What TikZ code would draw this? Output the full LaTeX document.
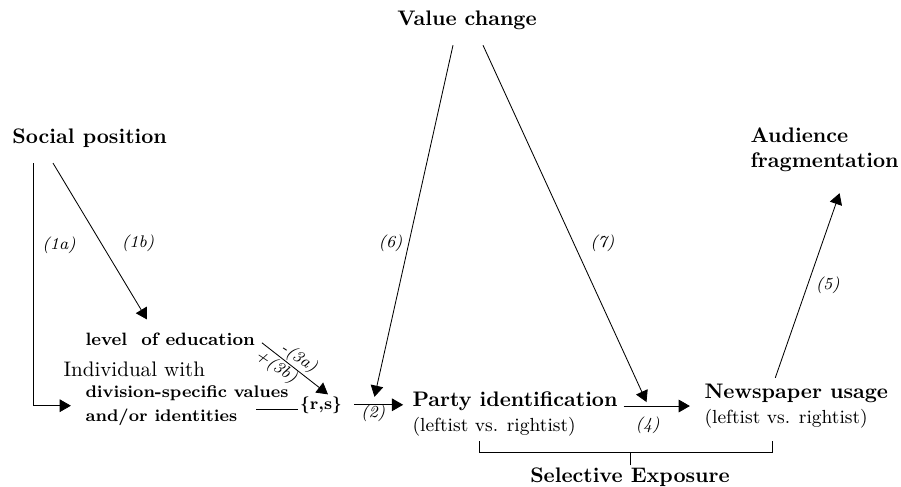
\documentclass[tikz,border=0pt]{standalone}
\usetikzlibrary{arrows.meta,calc}
\tikzset{every picture/.style={line width=0.4pt}}
\tikzset{
  arr/.style={-{Triangle[length=5.3pt,width=6pt]}},
  lbl/.style={inner sep=0.75pt,font=\footnotesize\itshape},
  txt/.style={inner sep=0.75pt}
}
\begin{document}
\begin{tikzpicture}[x=0.475pt,y=0.475pt,yscale=-1,xscale=1]
\useasboundingbox (0,0) rectangle (901,486);

% Text Node
\draw (467,26) node (value) [anchor=base][txt] [font=\bfseries] {Value change};
% Text Node
\draw (10.5,144) node (social) [anchor=base west][txt] [font=\bfseries] {Social position};
% Text Node
\draw (748.5,126) node (audience) [anchor=north west][txt] [align=left,font=\bfseries] {Audience\\fragmentation};
% Text Node
\draw (83.5,345) node (educ) [anchor=base west][txt] [font=\fontsize{8.5}{10}\selectfont\bfseries] {level\ \ of education};
% Text Node
\draw (61.5,376) node (indiv) [anchor=base west][txt] {Individual with};
% Text Node
\draw (83.5,383.7) node (divis) [anchor=north west][txt] [align=left,font=\fontsize{8}{11.4}\selectfont\bfseries] {division-specific values\\and/or identities};
% Text Node
\draw (321,409) node (rs) [anchor=base][txt] [font=\footnotesize\bfseries] {\{r,s\}};
% Text Node
\draw (410.5,389.8) node (party) [anchor=north west][txt] [align=left] {\textbf{Party identification}\\{\small(leftist vs. rightist)}};
% Text Node
\draw (702.5,381.8) node (news) [anchor=north west][txt] [align=left] {\textbf{Newspaper usage}\\{\small(leftist vs. rightist)}};
% Text Node
\draw (630,482) node (sel) [anchor=base][txt] [font=\bfseries] {Selective Exposure};

%Straight Lines
\draw [arr, shorten >=6pt] ($(social.south west)+(22.5,13)$) |- (divis.west) node [lbl, right=3.5pt, pos=0.17] {(1a)};
%Straight Lines
\draw [arr] ($(social.south west)+(42.5,13)$) -- ($(educ.north west)+(63.5,-11)$) node [lbl, right=9pt, pos=0.51] {(1b)};
%Straight Lines
\draw [arr] ($(educ.east)+(5,4)$) -- ($(rs.north)+(7,0)$) node [lbl, rotate=-33.7, anchor=south, pos=0.47] {-(3a)} node [lbl, rotate=-33.7, anchor=north, pos=0.3] {+(3b)};
%Straight Lines
\draw (rs.base west) -- ++(-42,0);
%Straight Lines
\draw [arr, shorten <=5pt, shorten >=3.5pt] (rs.east) -- (rs.east -| party.west) node [lbl, below=-1pt, pos=0.44] {(2)};
%Straight Lines
\draw [arr] ($(value.south)+(-14,13)$) -- ($(party.north west)+(-36,7)$) node [lbl, left=2pt, pos=0.5625] {(6)};
%Straight Lines
\draw [arr] ($(value.south)+(16,13)$) -- ($(news.west)+(-56,-4)$) node [lbl, right=7pt, pos=0.555] {(7)};
%Straight Lines
\draw [arr, shorten <=2pt, shorten >=6pt] (party.east |- news.west) -- (news.west) node [lbl, below=4pt, pos=0.34] {(4)};
%Straight Lines
\draw [arr] ($(news.north)+(-21,-4)$) -- ($(audience.south)+(15,19)$) node [lbl, right=3pt, pos=0.5] {(5)};

%Shape: Bracket
\draw ($(sel.north)+(-151,-24)$) -- ++(0,11) -- ++(293,0) -- ++(0,-11);
\draw (sel.north) -- ++(0,-13);

\end{tikzpicture}
\end{document}
